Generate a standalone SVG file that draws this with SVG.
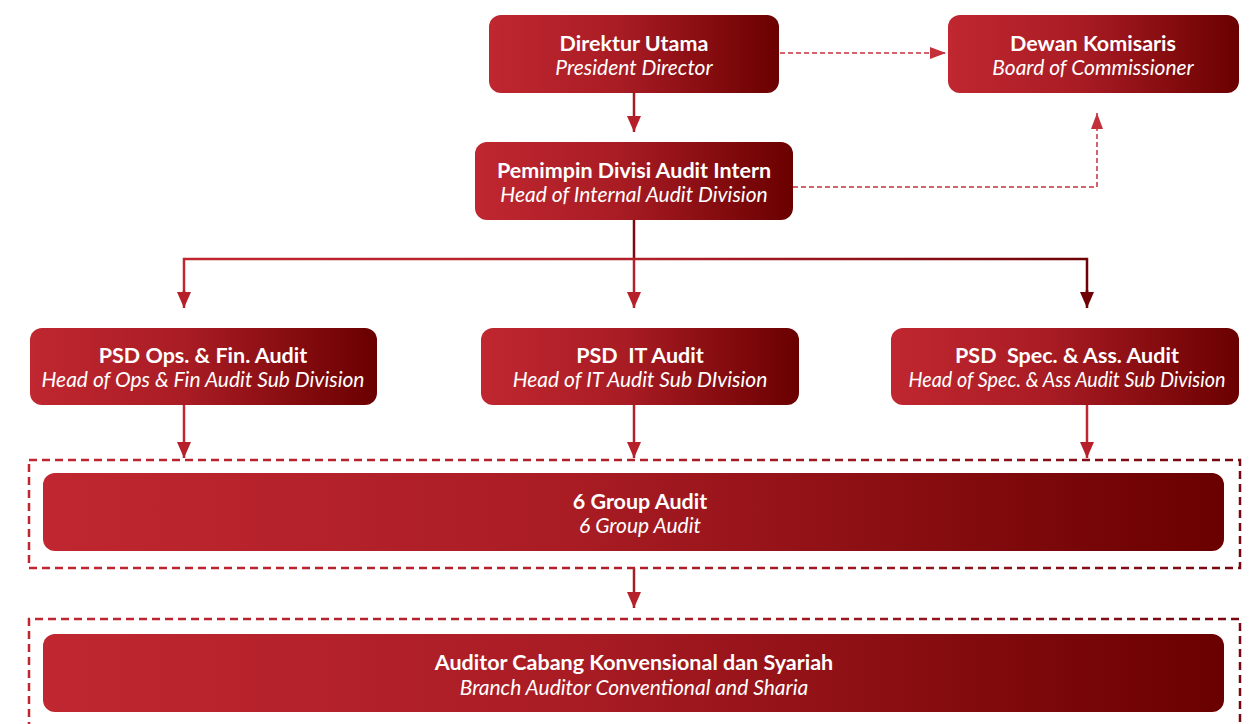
<svg xmlns="http://www.w3.org/2000/svg" width="1259" height="724" viewBox="0 0 1259 724">
<defs>
<linearGradient id="g" x1="0" y1="0" x2="1" y2="0">
<stop offset="0" stop-color="#c02730"/>
<stop offset="0.45" stop-color="#a91c24"/>
<stop offset="1" stop-color="#6a0000"/>
</linearGradient>
<linearGradient id="hline" gradientUnits="userSpaceOnUse" x1="184" y1="0" x2="1087" y2="0">
<stop offset="0" stop-color="#bf2630"/>
<stop offset="0.5" stop-color="#b32029"/>
<stop offset="1" stop-color="#6e0206"/>
</linearGradient>
<linearGradient id="dash" gradientUnits="userSpaceOnUse" x1="30" y1="0" x2="1240" y2="0">
<stop offset="0" stop-color="#bf2630"/>
<stop offset="0.5" stop-color="#b02029"/>
<stop offset="1" stop-color="#760810"/>
</linearGradient>
<marker id="aRed" markerUnits="userSpaceOnUse" markerWidth="16" markerHeight="14" viewBox="0 0 16 14" refX="16" refY="7" orient="auto">
<path d="M0,0 L16,7 L0,14 Z" fill="#b5202a"/>
</marker>
<marker id="aDark" markerUnits="userSpaceOnUse" markerWidth="16" markerHeight="14" viewBox="0 0 16 14" refX="16" refY="7" orient="auto">
<path d="M0,0 L16,7 L0,14 Z" fill="#6e0206"/>
</marker>
<marker id="aLight" markerUnits="userSpaceOnUse" markerWidth="16" markerHeight="12" viewBox="0 0 16 12" refX="16" refY="6" orient="auto">
<path d="M0,0 L16,6 L0,12 Z" fill="#c4303a"/>
</marker>
</defs>
<style>
.box{fill:url(#g);}
.t{font-family:Lato,"Liberation Sans",sans-serif;fill:#ffffff;text-anchor:middle;}
.b{font-weight:bold;font-size:21.5px;}
.i{font-style:italic;font-size:21px;}
.sol{fill:none;stroke-width:2.5;}
.dsh{fill:none;stroke:#c4303a;stroke-width:1.5;stroke-dasharray:5 3;}
.grp{fill:none;stroke:url(#dash);stroke-width:2.5;stroke-dasharray:8 5;}
</style>
<rect width="1259" height="724" fill="#ffffff"/>

<g id="connectors">
<line class="sol" x1="634" y1="93" x2="634" y2="132" stroke="#a51d26" marker-end="url(#aRed)"/>
<line class="dsh" x1="780" y1="53" x2="946" y2="53" marker-end="url(#aLight)"/>
<polyline class="dsh" points="793,187 1097,187 1097,113" marker-end="url(#aLight)"/>
<line class="sol" x1="634" y1="220" x2="634" y2="259" stroke="#7a0a10"/>
<polyline class="sol" points="184,294 184,259 1087,259 1087,294" stroke="url(#hline)"/>
<line class="sol" x1="184" y1="290" x2="184" y2="308" stroke="#bf2630" marker-end="url(#aRed)"/>
<line class="sol" x1="634" y1="259" x2="634" y2="308" stroke="#b5202a" marker-end="url(#aRed)"/>
<line class="sol" x1="1087" y1="290" x2="1087" y2="308" stroke="#6e0206" marker-end="url(#aDark)"/>
<line class="sol" x1="184" y1="405" x2="184" y2="458" stroke="#bf2630" marker-end="url(#aRed)"/>
<line class="sol" x1="634" y1="405" x2="634" y2="458" stroke="#b5202a" marker-end="url(#aRed)"/>
<line class="sol" x1="1087" y1="405" x2="1087" y2="458" stroke="#c02730" marker-end="url(#aRed)"/>
<line class="sol" x1="634" y1="568" x2="634" y2="608" stroke="#a51d26" marker-end="url(#aRed)"/>
</g>

<g id="group1">
<rect class="grp" x="29" y="460" width="1211" height="108"/>
</g>
<g id="group2">
<path class="grp" d="M29,730 L29,619 L1240,619 L1240,730"/>
</g>

<g id="direktur">
<rect class="box" x="489" y="15" width="290" height="78" rx="12"/>
<text class="t b" x="634" y="51">Direktur Utama</text>
<text class="t i" x="634" y="75">President Director</text>
</g>
<g id="dewan">
<rect class="box" x="948" y="15" width="291" height="78" rx="12"/>
<text class="t b" x="1093" y="51">Dewan Komisaris</text>
<text class="t i" x="1093" y="75">Board of Commissioner</text>
</g>
<g id="pemimpin">
<rect class="box" x="475" y="142" width="318" height="78" rx="12"/>
<text class="t b" x="634" y="178">Pemimpin Divisi Audit Intern</text>
<text class="t i" x="634" y="202">Head of Internal Audit Division</text>
</g>
<g id="psd-ops">
<rect class="box" x="30" y="328" width="347" height="77" rx="12"/>
<text class="t b" x="203" y="363">PSD Ops. &amp; Fin. Audit</text>
<text class="t i" x="203" y="387">Head of Ops &amp; Fin Audit Sub Division</text>
</g>
<g id="psd-it">
<rect class="box" x="481" y="328" width="318" height="77" rx="12"/>
<text class="t b" x="640" y="363" xml:space="preserve">PSD  IT Audit</text>
<text class="t i" x="640" y="387">Head of IT Audit Sub DIvision</text>
</g>
<g id="psd-spec">
<rect class="box" x="891" y="328" width="348" height="77" rx="12"/>
<text class="t b" x="1067" y="363" xml:space="preserve">PSD  Spec. &amp; Ass. Audit</text>
<text class="t i" x="1067" y="387" textLength="317" lengthAdjust="spacingAndGlyphs">Head of Spec. &amp; Ass Audit Sub Division</text>
</g>
<g id="group-audit">
<rect class="box" x="43" y="473" width="1181" height="78" rx="12"/>
<text class="t b" x="640" y="509">6 Group Audit</text>
<text class="t i" x="640" y="533">6 Group Audit</text>
</g>
<g id="auditor-cabang">
<rect class="box" x="43" y="634" width="1181" height="78" rx="12"/>
<text class="t b" x="634" y="670">Auditor Cabang Konvensional dan Syariah</text>
<text class="t i" x="634" y="695">Branch Auditor Conventional and Sharia</text>
</g>
</svg>
